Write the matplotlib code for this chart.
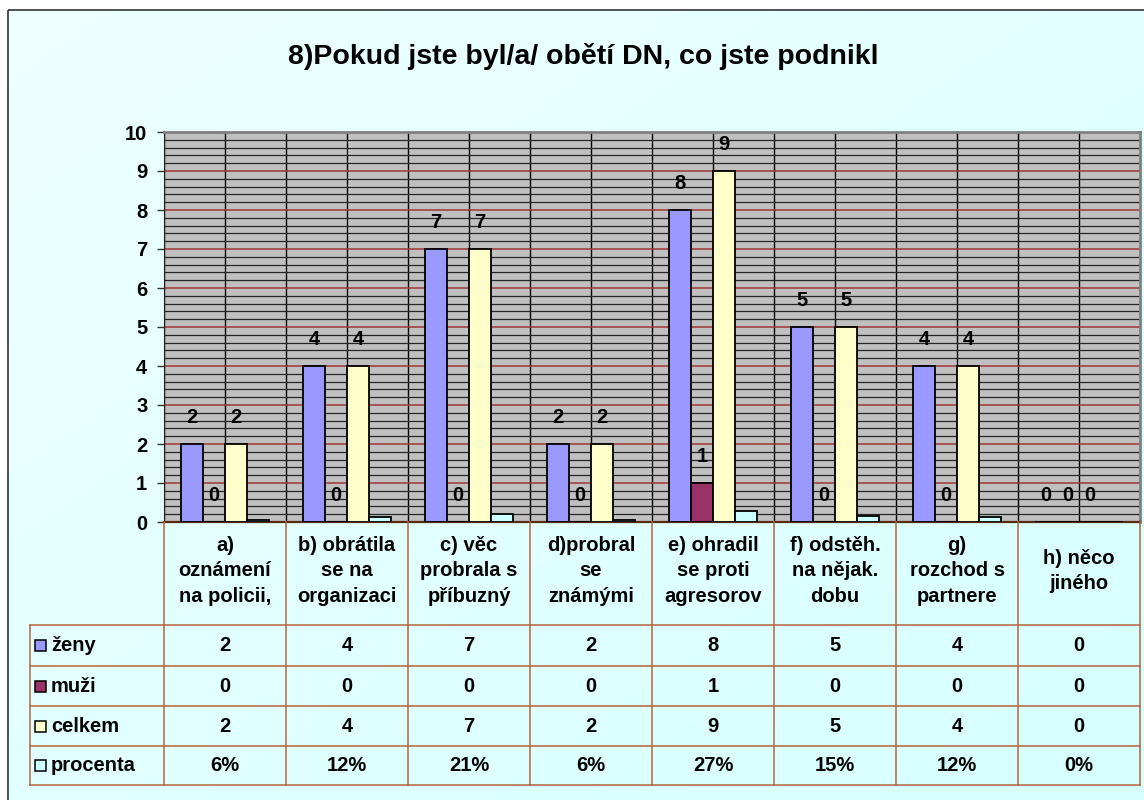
import numpy as np
import matplotlib
matplotlib.use("Agg")
import matplotlib.pyplot as plt
import matplotlib.transforms as mtransforms
from matplotlib.patches import Rectangle

plt.rcParams['font.family'] = ['Liberation Sans', 'DejaVu Sans']
plt.rcParams['font.weight'] = 'bold'

# data
categories = ["a)\noznámení\nna policii,", "b) obrátila\nse na\norganizaci",
              "c) věc\nprobrala s\npříbuzný", "d)probral\nse\nznámými",
              "e) ohradil\nse proti\nagresorov", "f) odstěh.\nna nějak.\ndobu",
              "g)\nrozchod s\npartnere", "h) něco\njiného"]
zeny = [2, 4, 7, 2, 8, 5, 4, 0]
muzi = [0, 0, 0, 0, 1, 0, 0, 0]
celkem = [2, 4, 7, 2, 9, 5, 4, 0]
procenta = [0.06, 0.12, 0.21, 0.06, 0.27, 0.15, 0.12, 0.0]
series_names = ["ženy", "muži", "celkem", "procenta"]
series_colors = ["#9999FF", "#993366", "#FFFFCC", "#CCFFFF"]

W, H = 1144, 800
FS = 14.5
fig = plt.figure(figsize=(W / 100, H / 100), dpi=100, facecolor='white')

# background with soft gradient + frame
bg = fig.add_axes([0, 0, 1, 1], zorder=-5)
bg.set_xlim(0, W)
bg.set_ylim(H, 0)
bg.axis('off')
gx, gy = np.meshgrid(np.linspace(0, 1, 200), np.linspace(0, 1, 200))
g = (gx + gy) / 2
bg.imshow(g, extent=[8, W + 5, H + 5, 10], cmap=matplotlib.colors.LinearSegmentedColormap.from_list(
    'bgc', ['#EEFFFF', '#D6FFFF']), aspect='auto', zorder=0)
bg.add_patch(Rectangle((8, 10), W, H, fill=False, edgecolor='#333333', lw=1.2, zorder=1))

# main chart
ax = fig.add_axes([164 / W, 1 - 522 / H, (1140 - 164) / W, (522 - 132) / H])
ax.set_facecolor('#C0C0C0')
ax.set_xlim(-0.5, 7.5)
ax.set_ylim(0, 10)
ax.set_axisbelow(True)

x = np.arange(len(categories))
bw = 0.18
offsets = [-1.5 * bw, -0.5 * bw, 0.5 * bw, 1.5 * bw]
all_series = [zeny, muzi, celkem, procenta]
for vals, off, col in zip(all_series, offsets, series_colors):
    ax.bar(x + off, vals, bw, color=col, edgecolor='black', linewidth=1.3, zorder=3)

# data labels (not for procenta)
for vals, off in zip(all_series[:3], offsets[:3]):
    for xi, v in zip(x, vals):
        ax.annotate(str(v), (xi + off, v), xytext=(0, 19), textcoords='offset points',
                    ha='center', va='center', fontsize=FS, fontweight='bold', zorder=5)

ax.set_yticks(np.arange(0, 11, 1))
ax.set_yticks(np.arange(0, 10.01, 0.2), minor=True)
ax.set_xticks(np.arange(-0.5, 7.6, 0.5), minor=True)
ax.set_xticks([])
ax.grid(which='major', axis='y', color='#A03535', lw=1.1)
ax.grid(which='minor', axis='y', color='#262626', lw=0.9)
ax.grid(which='minor', axis='x', color='black', lw=1.0)
ax.tick_params(axis='y', which='major', length=5, width=1, pad=7, labelsize=FS, color='#333333')
ax.tick_params(axis='y', which='minor', length=0)
ax.tick_params(axis='x', which='both', length=0, labelbottom=False)
for lab in ax.get_yticklabels():
    lab.set_fontweight('bold')
ax.spines['left'].set_color('#222222')
ax.spines['top'].set_color('#808080')
ax.spines['right'].set_color('#808080')
ax.spines['right'].set_linewidth(2)
ax.spines['top'].set_linewidth(2)
ax.spines['bottom'].set_color('#5A2A10')
ax.spines['bottom'].set_linewidth(1.6)

# title
fig.text(583 / W, 1 - 57 / H, "8)Pokud jste byl/a/ obětí DN, co jste podnikl",
         ha='center', va='center', fontsize=20.5, fontweight='bold')

# data table below the chart
ov = fig.add_axes([0, 0, 1, 1], zorder=10)
ov.set_xlim(0, W)
ov.set_ylim(H, 0)
ov.axis('off')
blend = mtransforms.blended_transform_factory(ax.transData, ov.transData)
tcol = '#B5653A'
row_edges = [625, 666, 706, 746, 785]
header_top = 522

for i in range(len(categories) + 1):
    ov.plot([i - 0.5, i - 0.5], [header_top, row_edges[-1]], color=tcol, lw=1.1, transform=blend)
for yy in row_edges:
    ov.plot([30, 1140], [yy, yy], color=tcol, lw=1.1)
ov.plot([30, 30], [row_edges[0], row_edges[-1]], color=tcol, lw=1.1)

for xi, lab in zip(x, categories):
    ov.text(xi, 571, lab, transform=blend, ha='center', va='center', fontsize=FS,
            fontweight='bold', linespacing=1.45, multialignment='center')

row_texts = [[str(v) for v in zeny], [str(v) for v in muzi], [str(v) for v in celkem],
             [f"{round(p * 100)}%" for p in procenta]]
for r, (name, col, texts) in enumerate(zip(series_names, series_colors, row_texts)):
    yc = (row_edges[r] + row_edges[r + 1]) / 2
    ov.add_patch(Rectangle((35, yc - 5.5), 11, 11, facecolor=col, edgecolor='black', lw=1.1))
    ov.text(51, yc, name, ha='left', va='center', fontsize=FS, fontweight='bold')
    for xi, t in zip(x, texts):
        ov.text(xi, yc, t, transform=blend, ha='center', va='center', fontsize=FS,
                fontweight='bold')

fig.savefig("out.png", dpi=100, facecolor='white')
